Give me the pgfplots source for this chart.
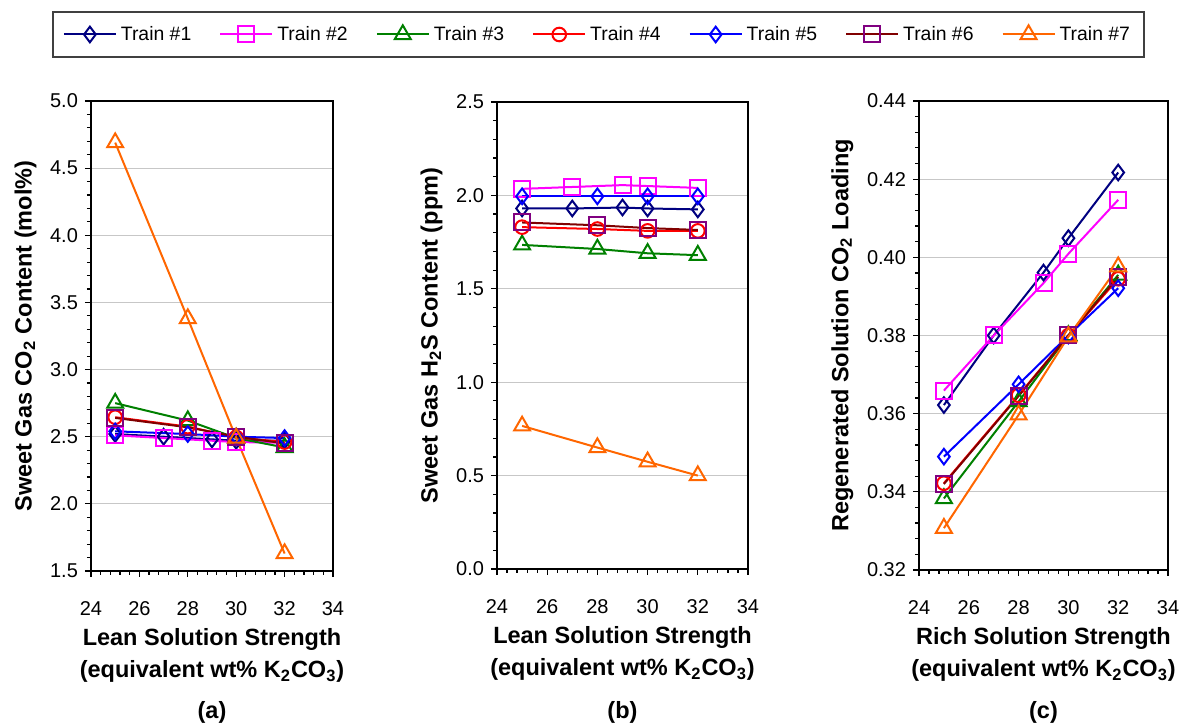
\documentclass[border=0pt]{standalone}
\usepackage{fontspec}
\setmainfont{Liberation Sans}
\usepackage{pgfplots}
\pgfplotsset{compat=1.18}

\definecolor{tnavy}{RGB}{0,0,128}
\definecolor{tmag}{RGB}{255,0,255}
\definecolor{tgreen}{RGB}{0,128,0}
\definecolor{tred}{RGB}{255,0,0}
\definecolor{tblue}{RGB}{0,0,255}
\definecolor{tdred}{RGB}{128,0,0}
\definecolor{tpurp}{RGB}{128,0,128}
\definecolor{torange}{RGB}{255,102,0}

\pgfplotsset{
  panel/.style={
    scale only axis,
    xmin=24, xmax=34, xtick={24,26,28,30,32,34}, minor x tick num=4,
    minor y tick num=4,
    tick align=outside, tick pos=left,
    major tick length=3pt, minor tick length=2pt,
    every tick/.style={black, line width=0.6pt},
    ymajorgrids, major grid style={draw=black!22, line width=0.5pt},
    axis line style={line width=0.75pt},
    tick label style={font=\fontsize{10}{12}\selectfont},
    xticklabel shift=8.5pt,
    label style={font=\bfseries\fontsize{11.75}{16}\selectfont, align=center},
    /pgf/number format/assume math mode=true,
    y tick label style={/pgf/number format/.cd, fixed, fixed zerofill},
    every axis plot/.append style={line width=1pt},
  },
  t1/.style={color=tnavy, mark=diamond, mark options={solid, line width=1pt, mark size=3.9pt}},
  t2/.style={color=tmag, mark=square, mark options={solid, line width=1pt, mark size=4pt}},
  t3/.style={color=tgreen, mark=triangle, mark options={solid, line width=1pt, mark size=4.6pt}},
  t4/.style={color=tred, mark=o, mark options={solid, line width=1pt, mark size=3.4pt}},
  t5/.style={color=tblue, mark=diamond, mark options={solid, line width=1pt, mark size=3.9pt}},
  t6/.style={color=tdred, mark=square, mark options={solid, draw=tpurp, line width=1pt, mark size=4pt}},
  t7/.style={color=torange, mark=triangle, mark options={solid, line width=1pt, mark size=4.6pt}},
}

\begin{document}
\begin{tikzpicture}
\path[use as bounding box] (0,0) rectangle (590pt,363pt);

% (a) sweet gas CO2 versus lean solution strength
\begin{axis}[panel, name=pa, at={(45.5pt,77.5pt)}, anchor=south west,
  width=121pt, height=235pt,
  ymin=1.5, ymax=5.0, ytick={1.5,2.0,2.5,3.0,3.5,4.0,4.5,5.0},
  y tick label style={/pgf/number format/precision=1},
  ylabel={Sweet Gas CO\textsubscript{2} Content (mol\%)},
  xlabel={Lean Solution Strength\\(equivalent wt\% K\textsubscript{2}CO\textsubscript{3})},
  legend columns=7,
  legend style={at={(2.097,1.1415)}, anchor=center, draw=black!75, line width=0.75pt,
    font=\fontsize{9.7}{12}\selectfont, inner xsep=5pt, inner ysep=5pt,
    /tikz/every even column/.append style={column sep=12pt}},
  legend image code/.code={\draw[mark repeat=2,mark phase=2,#1] plot coordinates {(0pt,0pt) (13pt,0pt) (26pt,0pt)};},
]
\addplot[t1] coordinates {(25,2.52) (27,2.50) (29,2.48) (30,2.47) (32,2.47)};
\addplot[t2] coordinates {(25,2.51) (27,2.49) (29,2.47) (30,2.46) (32,2.455)};
\addplot[t3] coordinates {(25,2.75) (28,2.62) (30,2.49) (32,2.42)};
\addplot[t4] coordinates {(25,2.645) (28,2.575) (30,2.495) (32,2.46)};
\addplot[t5] coordinates {(25,2.54) (28,2.52) (30,2.50) (32,2.49)};
\addplot[t6] coordinates {(25,2.64) (28,2.57) (30,2.50) (32,2.45)};
\addplot[t7] coordinates {(25,4.69) (28,3.38) (30,2.49) (32,1.63)};
\legend{Train \#1, Train \#2, Train \#3, Train \#4, Train \#5, Train \#6, Train \#7}
\end{axis}

% (b) sweet gas H2S versus lean solution strength
\begin{axis}[panel, name=pb, at={(248.5pt,78.5pt)}, anchor=south west,
  width=125.5pt, height=233.5pt,
  ymin=0, ymax=2.5, ytick={0,0.5,1.0,1.5,2.0,2.5},
  y tick label style={/pgf/number format/precision=1},
  ylabel={Sweet Gas H\textsubscript{2}S Content (ppm)},
  xlabel={Lean Solution Strength\\(equivalent wt\% K\textsubscript{2}CO\textsubscript{3})},
]
\addplot[t1] coordinates {(25,1.93) (27,1.93) (29,1.935) (30,1.93) (32,1.925)};
\addplot[t2] coordinates {(25,2.035) (27,2.045) (29,2.055) (30,2.05) (32,2.04)};
\addplot[t3] coordinates {(25,1.735) (28,1.713) (30,1.69) (32,1.68)};
\addplot[t4] coordinates {(25,1.83) (28,1.82) (30,1.81) (32,1.81)};
\addplot[t5] coordinates {(25,1.995) (28,1.995) (30,1.995) (32,1.995)};
\addplot[t6] coordinates {(25,1.855) (28,1.84) (30,1.825) (32,1.815)};
\addplot[t7] coordinates {(25,0.766) (28,0.65) (30,0.574) (32,0.50)};
\end{axis}

% (c) regenerated solution loading versus rich solution strength
\begin{axis}[panel, name=pc, at={(459.5pt,78pt)}, anchor=south west,
  width=124.5pt, height=234.5pt,
  ymin=0.32, ymax=0.44, ytick={0.32,0.34,0.36,0.38,0.40,0.42,0.44},
  y tick label style={/pgf/number format/precision=2},
  ylabel={Regenerated Solution CO\textsubscript{2} Loading},
  xlabel={Rich Solution Strength\\(equivalent wt\% K\textsubscript{2}CO\textsubscript{3})},
]
\addplot[t1] coordinates {(25,0.3622) (27,0.3800) (29,0.3961) (30,0.4049) (32,0.4217)};
\addplot[t2] coordinates {(25,0.3659) (27,0.3800) (29,0.3934) (30,0.4009) (32,0.4147)};
\addplot[t3] coordinates {(25,0.3383) (28,0.3631) (30,0.3800) (32,0.3955)};
\addplot[t4] coordinates {(25,0.3422) (28,0.3647) (30,0.3800) (32,0.3945)};
\addplot[t5] coordinates {(25,0.3490) (28,0.3675) (30,0.3800) (32,0.3921)};
\addplot[t6] coordinates {(25,0.3420) (28,0.3645) (30,0.3800) (32,0.3950)};
\addplot[t7] coordinates {(25,0.3307) (28,0.3597) (30,0.3797) (32,0.3976)};
\end{axis}

\node[font=\bfseries\fontsize{11.75}{14}\selectfont] at ([yshift=-70.5pt]pa.south) {(a)};
\node[font=\bfseries\fontsize{11.75}{14}\selectfont] at ([yshift=-71.5pt]pb.south) {(b)};
\node[font=\bfseries\fontsize{11.75}{14}\selectfont] at ([yshift=-71pt]pc.south) {(c)};
\end{tikzpicture}
\end{document}
